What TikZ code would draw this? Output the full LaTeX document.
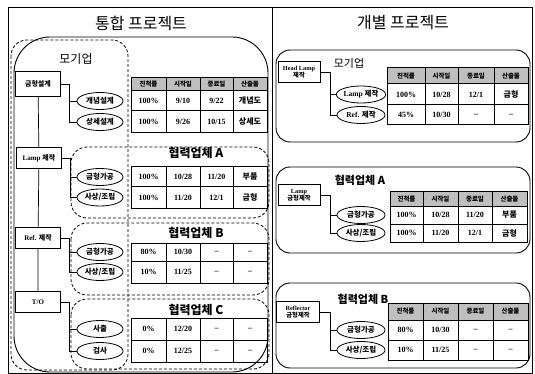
\documentclass[tikz,border=0pt]{standalone}
\usepackage{fontspec}
\setmainfont{Liberation Serif}
\newfontfamily\kr{Noto Sans CJK KR}
\usetikzlibrary{shapes.geometric}

\newcommand\setcols[5]{\def\ca{#1}\def\cb{#2}\def\cc{#3}\def\cd{#4}\def\ce{#5}}
% #1 name, #2 y0, #3 y1, #4 style, #5-#8 texts
\newcommand\trow[8]{%
  \draw[cell,#4] (\ca,#2) rectangle (\cb,#3);
  \draw[cell,#4] (\cb,#2) rectangle (\cc,#3);
  \draw[cell,#4] (\cc,#2) rectangle (\cd,#3);
  \draw[cell,#4] (\cd,#2) rectangle (\ce,#3);
  \node[celltxt,#4] (#1a) at ({(\ca+\cb)/2},{(#2+#3)/2}) {#5};
  \node[celltxt,#4] (#1b) at ({(\cb+\cc)/2},{(#2+#3)/2}) {#6};
  \node[celltxt,#4] (#1c) at ({(\cc+\cd)/2},{(#2+#3)/2}) {#7};
  \node[celltxt,#4] (#1d) at ({(\cd+\ce)/2},{(#2+#3)/2}) {#8};
}
\newcommand\hrow[3]{\trow{#1}{#2}{#3}{hcell}{진척률}{시작일}{종료일}{산출물}}

\begin{document}
\begin{tikzpicture}[x=1pt,y=-1pt,
  frame/.style={draw,line width=0.8pt},
  bigbox/.style={draw,line width=0.9pt,rounded corners=36pt},
  dbox/.style={draw,dashed,dash pattern=on 3pt off 2pt,line width=0.8pt,rounded corners=16pt},
  rbox/.style={draw,line width=0.9pt,rounded corners=14pt},
  ttl/.style={font=\kr\fontsize{16}{16}\selectfont},
  molbl/.style={font=\kr\fontsize{12}{12}\selectfont},
  lbl/.style={font=\kr\bfseries\fontsize{12}{12}\selectfont},
  rmolbl/.style={font=\kr\fontsize{11}{11}\selectfont},
  rlbl/.style={font=\kr\bfseries\fontsize{11}{11}\selectfont},
  task/.style={draw,line width=0.8pt,minimum width=45pt,minimum height=21pt,inner sep=1pt,align=center,font=\bfseries\fontsize{7}{8}\selectfont},
  sub/.style={ellipse,draw,line width=0.8pt,minimum width=46pt,minimum height=17pt,inner sep=0pt,font=\bfseries\fontsize{7.5}{8.5}\selectfont},
  cell/.style={draw,line width=1pt},
  celltxt/.style={draw=none,fill=none,inner sep=0pt,font=\bfseries\fontsize{8}{9}\selectfont},
  hcell/.style={fill=gray!50,font=\kr\bfseries\fontsize{6.5}{7}\selectfont},
  conn/.style={line width=0.7pt}
]
\useasboundingbox (0,0) rectangle (535,374);
\fill[white] (0,0) rectangle (535,374);

% frame
\draw[frame] (8,7) rectangle (532,373);
\draw[frame] (272,7) -- (272,373);

% ---------------- left panel ----------------
\node[ttl] (tleft) at (141,23) {통합 프로젝트};
\draw[bigbox] (14,37) rectangle (268,372);
\draw[dbox] (11,40) rectangle (128,370);
\draw[dbox] (71,147) rectangle (269,218);
\draw[dbox] (71,223) rectangle (269,295);
\draw[dbox] (71,299) rectangle (269,369);

\node[molbl] (lmo) at (76,59) {모기업};
\node[lbl] (lA) at (196,153) {협력업체 A};
\node[lbl] (lB) at (196,233) {협력업체 B};
\node[lbl] (lC) at (196,310) {협력업체 C};

\setcols{131}{166}{200}{233}{267}
\hrow{mh}{78}{91}
\trow{m1}{91}{111}{}{100\%}{9/10}{9/22}{\kr 개념도}
\trow{m2}{111}{133}{}{100\%}{9/26}{10/15}{\kr 상세도}
\trow{a1}{167}{187}{}{100\%}{10/28}{11/20}{\kr 부품}
\trow{a2}{187}{208}{}{100\%}{11/20}{12/1}{\kr 금형}
\trow{b1}{243}{261}{}{80\%}{10/30}{--}{--}
\trow{b2}{261}{283}{}{10\%}{11/25}{--}{--}
\trow{c1}{318}{340}{}{0\%}{12/20}{--}{--}
\trow{c2}{340}{362}{}{0\%}{12/25}{--}{--}

\node[task,minimum height=25pt] (t1) at (38,84) {\kr 금형설계};
\node[task] (t2) at (39,158) {Lamp {\kr 제작}};
\node[task] (t3) at (38,238) {Ref. {\kr 제작}};
\node[task] (t4) at (38,302) {T/O};

\node[sub] (e11) at (100,101) {\kr 개념설계};
\node[sub] (e12) at (100,122) {\kr 상세설계};
\node[sub] (e21) at (100,177) {\kr 금형가공};
\node[sub] (e22) at (100,197.5) {\kr 사상/조립};
\node[sub] (e31) at (100,252) {\kr 금형가공};
\node[sub] (e32) at (100,272) {\kr 사상/조립};
\node[sub] (e41) at (100,329) {\kr 사출};
\node[sub] (e42) at (100,351) {\kr 검사};

\draw[conn] (t1) -- (t2) -- (t3) -- (t4);
\foreach \t in {1,2,3,4}{
  \coordinate (j\t) at ([xshift=8pt]t\t.east);
  \draw[conn] (t\t.east) -- (j\t) |- (e\t2.west);
  \draw[conn] (j\t) |- (e\t1.west);
}

% ---------------- right panel ----------------
\node[ttl] (tright) at (403,23) {개별 프로젝트};
\draw[rbox] (276,50) rectangle (530,142);
\draw[rbox] (276,167) rectangle (530,253);
\draw[rbox] (276,283) rectangle (530,368);

\node[rmolbl] (rmo) at (349,63) {모기업};
\node[rlbl] (rA) at (360,180) {협력업체 A};
\node[rlbl] (rB) at (363,299) {협력업체 B};

\setcols{387}{425}{458}{494}{528}
\hrow{rmh}{68}{84}
\trow{rm1}{84}{105}{}{100\%}{10/28}{12/1}{\kr 금형}
\trow{rm2}{105}{125}{}{45\%}{10/30}{--}{--}
\setcols{390}{423}{458}{492}{527}
\hrow{rah}{192}{206}
\trow{ra1}{206}{224}{}{100\%}{10/28}{11/20}{\kr 부품}
\trow{ra2}{224}{242}{}{100\%}{11/20}{12/1}{\kr 금형}
\setcols{388}{423}{458}{493}{528}
\hrow{rbh}{303}{320}
\trow{rb1}{320}{340}{}{80\%}{10/30}{--}{--}
\trow{rb2}{340}{360}{}{10\%}{11/25}{--}{--}

\node[task,minimum width=42pt,font=\bfseries\fontsize{6.3}{7.3}\selectfont] (u1) at (299,72) {Head Lamp\\{\kr 제작}};
\node[task,minimum width=42pt,font=\bfseries\fontsize{6.3}{7.3}\selectfont] (u2) at (299,195) {Lamp\\{\kr 금형제작}};
\node[task,minimum width=43pt,font=\bfseries\fontsize{6.3}{7.3}\selectfont] (u3) at (298,312) {Reflector\\{\kr 금형제작}};

\node[sub,minimum width=48pt] (f11) at (361,94.5) {Lamp {\kr 제작}};
\node[sub,minimum width=48pt] (f12) at (361,115) {Ref. {\kr 제작}};
\node[sub,minimum width=48pt] (f21) at (361,215) {\kr 금형가공};
\node[sub,minimum width=48pt] (f22) at (361,233) {\kr 사상/조립};
\node[sub,minimum width=48pt] (f31) at (361,330) {\kr 금형가공};
\node[sub,minimum width=48pt] (f32) at (361,350) {\kr 사상/조립};

\foreach \t in {1,2,3}{
  \coordinate (k\t) at ([xshift=10pt]u\t.east);
  \draw[conn] (u\t.east) -- (k\t) |- (f\t2.west);
  \draw[conn] (k\t) |- (f\t1.west);
}
\end{tikzpicture}
\end{document}
